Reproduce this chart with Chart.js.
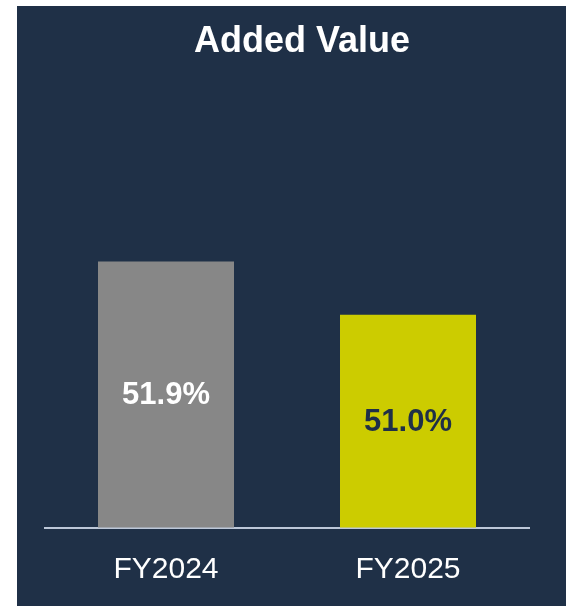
<!DOCTYPE html>
<html>
<head>
<meta charset="utf-8">
<script src="https://cdn.jsdelivr.net/npm/chart.js@4"></script>
<style>
  html, body { margin: 0; padding: 0; background: #ffffff; }
  #panel { position: absolute; left: 17px; top: 6px; width: 549px; height: 600px; background: #1f3047; }
  #bars { display: block; }
</style>
</head>
<body>
<div id="panel"><canvas id="bars" width="549" height="600"></canvas></div>
<script>
const years = ['FY2024', 'FY2025'];
const addedValue = [51.9, 51.0];
const barColors = ['#878787', '#cccc00'];
const labelColors = ['#ffffff', '#1f3047'];

// value labels in the middle of each bar
const barLabels = {
  id: 'barLabels',
  afterDraw(chart) {
    const c = chart.ctx;
    const meta = chart.getDatasetMeta(0);
    const yScale = chart.scales.y;
    c.save();
    c.font = 'bold 31px "Liberation Sans", Arial, sans-serif';
    c.textAlign = 'center';
    c.textBaseline = 'middle';
    meta.data.forEach((bar, i) => {
      const top = yScale.getPixelForValue(addedValue[i]);
      const mid = (top + yScale.bottom) / 2;
      c.fillStyle = labelColors[i];
      c.fillText(addedValue[i].toFixed(1) + '%', bar.x, mid + 1);
    });
    c.restore();
  }
};

const ctx = document.getElementById('bars').getContext('2d');

new Chart(ctx, {
  type: 'bar',
  data: {
    labels: years,
    datasets: [{
      label: 'Added Value',
      data: addedValue,
      backgroundColor: barColors,
      borderWidth: 0,
      categoryPercentage: 1,
      barPercentage: 0.562
    }]
  },
  options: {
    responsive: false,
    animation: false,
    layout: { padding: { left: 28, right: 7, top: 0, bottom: -5.5 } },
    plugins: {
      legend: { display: false },
      tooltip: { enabled: false },
      title: {
        display: true,
        text: 'Added Value',
        color: '#ffffff',
        font: { family: '"Liberation Sans", Arial, sans-serif', size: 36, weight: 'bold' },
        padding: { top: 14, bottom: 15 }
      }
    },
    scales: {
      x: {
        grid: { display: false, drawTicks: false, tickLength: 0 },
        border: { display: true, color: '#bcc7d8', width: 2 },
        ticks: {
          color: '#ffffff',
          padding: 24,
          font: { family: '"Liberation Sans", Arial, sans-serif', size: 30 }
        }
      },
      y: {
        position: 'right',
        min: 47.4,
        max: 55,
        grid: { display: false, drawTicks: false },
        border: { display: false },
        ticks: { display: false },
        afterFit: s => { s.width = 30; }
      }
    }
  },
  plugins: [barLabels]
});
</script>
</body>
</html>
